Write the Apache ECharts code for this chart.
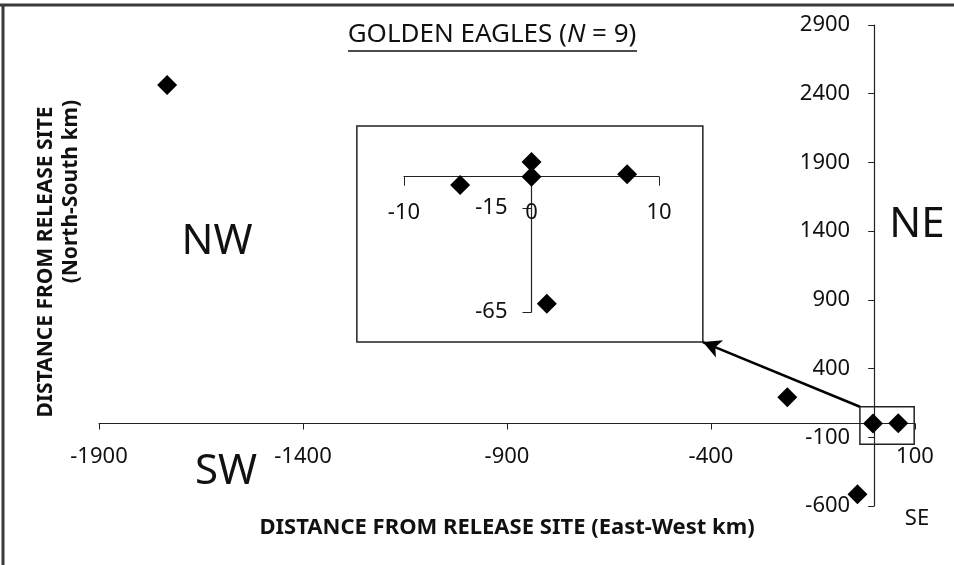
<!DOCTYPE html>
<html>
<head>
<meta charset="utf-8">
<script src="https://cdn.jsdelivr.net/npm/echarts@6/dist/echarts.min.js"></script>
<style>
  html, body { margin: 0; padding: 0; background: #fff; }
  #chart { width: 954px; height: 565px; }
</style>
</head>
<body>
<div id="chart"></div>
<script>
// Final positions of the tracked golden eagles relative to the release site (km)
const eastWest   = [-1733, -213, -3, 59, -41];
const northSouth = [2463, 191, 0, 3, -515];

// Enlarged view of the birds that settled close to the release site (km)
const insetEastWest   = [-5.6, 0, 0, 7.5, 1.2];
const insetNorthSouth = [-4, 7, 0, 1.2, -61];

// Tick values
const xTicks = [-1900, -1400, -900, -400, 100];
const yTicks = [-600, -100, 400, 900, 1400, 1900, 2400, 2900];
const insetXTicks = [-10, 0, 10];
const insetYTicks = [-65, -15];

// Axis ranges
const xRange = [-1900, 100];
const yRange = [-600, 2900];
const insetXRange = [-10, 10];
const insetYRange = [-65, 8];

// Callout: frame around the enlarged view, box around the cluster, and the arrow between them
const insetFrame = { x0: -1268, x1: -420, y0: 593, y1: 2165 };
const clusterBox = { x0: -35, x1: 98, y0: -151, y1: 122 };
const arrowFrom = [-35, 122];
const arrowTo = [-420, 593];

const W = 954, H = 565;
const mainGrid = { left: 99, right: 39, top: 25, bottom: 59 };
const insetGrid = { left: 404, top: 160, width: 255, height: 152 };
const mainW = W - mainGrid.left - mainGrid.right;
const mainH = H - mainGrid.top - mainGrid.bottom;

// Shift an axis from the grid edge to where the other axis reads zero
function zeroOffset(range, span) {
  return -((0 - range[0]) / (range[1] - range[0])) * span;
}

const FONT = '"Noto Sans", "Open Sans", sans-serif';
const INK = '#111';
const AXIS = '#222';

const chart = echarts.init(document.getElementById('chart'), null, { renderer: 'canvas' });

const labelStyle = { color: INK, fontFamily: FONT, fontSize: 22, formatter: v => String(v) };

function valueAxis(gridIndex, range, ticks, position, offset, tickLen, margin) {
  return {
    type: 'value', gridIndex, min: range[0], max: range[1], position, offset,
    splitLine: { show: false },
    axisLine: { onZero: false, lineStyle: { color: AXIS, width: 1.2 } },
    axisTick: { length: tickLen, customValues: ticks, lineStyle: { color: AXIS } },
    axisLabel: Object.assign({ customValues: ticks, margin }, labelStyle)
  };
}

chart.setOption({
  animation: false,
  backgroundColor: '#fff',
  grid: [
    Object.assign({}, mainGrid),
    Object.assign({}, insetGrid)
  ],
  xAxis: [
    valueAxis(0, xRange, xTicks, 'bottom', zeroOffset(yRange, mainH), 6, 22),
    valueAxis(1, insetXRange, insetXTicks, 'bottom', zeroOffset(insetYRange, insetGrid.height), 9, 25)
  ],
  yAxis: [
    valueAxis(0, yRange, yTicks, 'left', zeroOffset(xRange, mainW), 6, 24),
    valueAxis(1, insetYRange, insetYTicks, 'left', zeroOffset(insetXRange, insetGrid.width), 9, 24)
  ],
  series: [
    {
      name: 'Eagles',
      type: 'scatter',
      xAxisIndex: 0, yAxisIndex: 0,
      data: eastWest.map((x, i) => [x, northSouth[i]]),
      symbol: 'diamond',
      symbolSize: 20,
      itemStyle: { color: '#000', opacity: 1 },
      z: 5,
      markArea: {
        silent: true,
        label: { show: false },
        itemStyle: { color: 'rgba(0,0,0,0)', borderColor: AXIS, borderWidth: 1.5 },
        data: [
          [{ coord: [insetFrame.x0, insetFrame.y1] }, { coord: [insetFrame.x1, insetFrame.y0] }],
          [{ coord: [clusterBox.x0, clusterBox.y1] }, { coord: [clusterBox.x1, clusterBox.y0] }]
        ]
      },
      markLine: {
        silent: true,
        symbol: ['none', 'arrow'],
        symbolSize: [14, 18],
        label: { show: false },
        lineStyle: { color: '#000', width: 2.5, type: 'solid' },
        data: [[{ coord: arrowFrom }, { coord: arrowTo }]]
      }
    },
    {
      name: 'Eagles near release site',
      type: 'scatter',
      xAxisIndex: 1, yAxisIndex: 1,
      data: insetEastWest.map((x, i) => [x, insetNorthSouth[i]]),
      symbol: 'diamond',
      symbolSize: 20,
      itemStyle: { color: '#000', opacity: 1 },
      z: 5
    }
  ],
  graphic: [
    // page frame
    { type: 'line', shape: { x1: 0, y1: 5, x2: 954, y2: 5 }, style: { stroke: '#3a3a3a', lineWidth: 3 } },
    { type: 'line', shape: { x1: 3, y1: 5, x2: 3, y2: 565 }, style: { stroke: '#3a3a3a', lineWidth: 3 } },
    // title
    {
      type: 'text', x: 492, y: 35,
      style: {
        text: '{a|GOLDEN EAGLES (}{b|N}{a| = 9)}',
        align: 'center', verticalAlign: 'middle',
        rich: {
          a: { fontFamily: FONT, fontSize: 26, fill: INK },
          b: { fontFamily: FONT, fontSize: 26, fontStyle: 'italic', fill: INK }
        }
      }
    },
    { type: 'line', shape: { x1: 348, y1: 51, x2: 637, y2: 51 }, style: { stroke: INK, lineWidth: 1.5 } },
    // axis titles
    {
      type: 'text', x: 507, y: 528,
      style: { text: 'DISTANCE FROM RELEASE SITE (East-West km)', fontFamily: FONT, fontSize: 22, fontWeight: 'bold', fill: INK, align: 'center', verticalAlign: 'middle' }
    },
    {
      type: 'text', x: 46, y: 262, rotation: Math.PI / 2,
      style: { text: 'DISTANCE FROM RELEASE SITE', fontFamily: FONT, fontSize: 21, fontWeight: 'bold', fill: INK, align: 'center', verticalAlign: 'middle' }
    },
    {
      type: 'text', x: 71, y: 100, rotation: Math.PI / 2,
      style: { text: '(North-South km)', fontFamily: FONT, fontSize: 21, fontWeight: 'bold', fill: INK, align: 'right', verticalAlign: 'middle' }
    },
    // compass quadrants
    { type: 'text', x: 217, y: 242, style: { text: 'NW', fontFamily: FONT, fontSize: 42, fill: INK, align: 'center', verticalAlign: 'middle' } },
    { type: 'text', x: 917, y: 225, style: { text: 'NE', fontFamily: FONT, fontSize: 42, fill: INK, align: 'center', verticalAlign: 'middle' } },
    { type: 'text', x: 226, y: 472, style: { text: 'SW', fontFamily: FONT, fontSize: 42, fill: INK, align: 'center', verticalAlign: 'middle' } },
    { type: 'text', x: 917, y: 519, style: { text: 'SE', fontFamily: FONT, fontSize: 22, fill: INK, align: 'center', verticalAlign: 'middle' } }
  ]
});
</script>
</body>
</html>
